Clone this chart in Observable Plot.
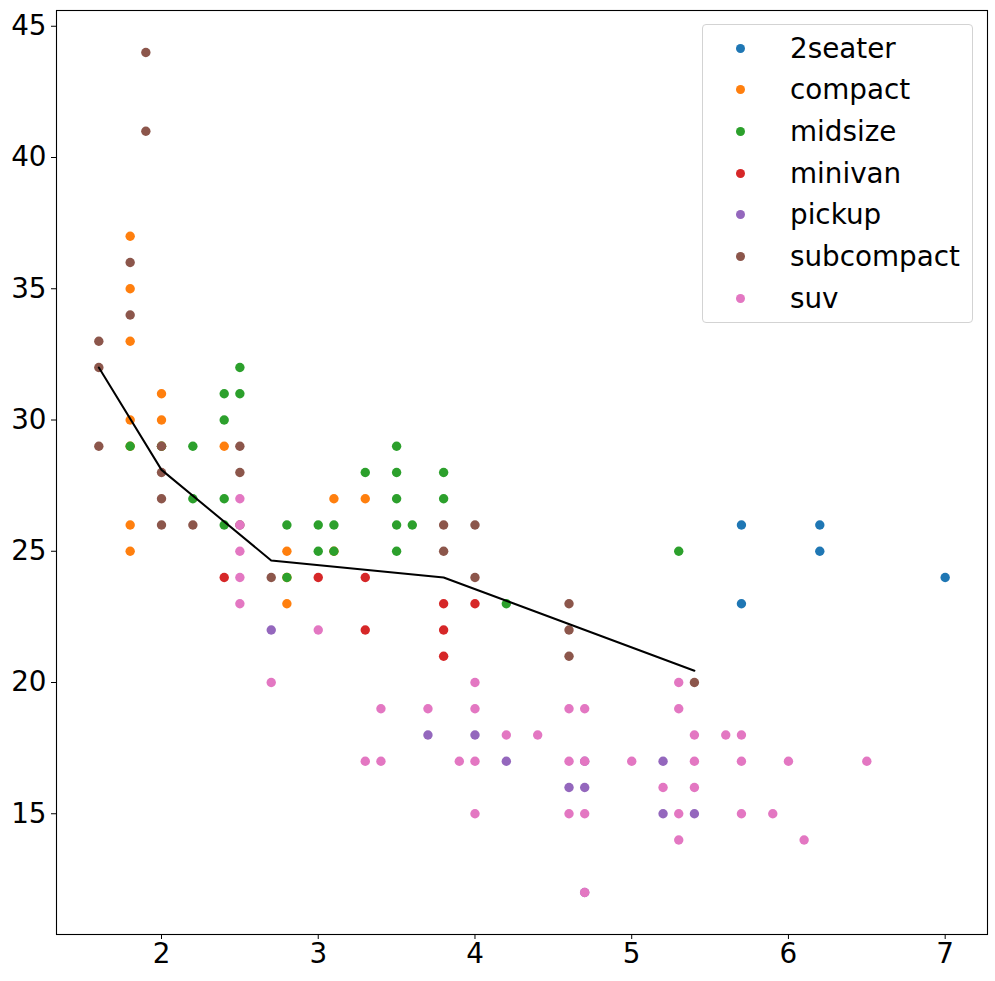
<!DOCTYPE html>
<html>
<head>
<meta charset="utf-8">
<script src="https://cdn.jsdelivr.net/npm/d3@7"></script>
<script src="https://cdn.jsdelivr.net/npm/@observablehq/plot@0.6"></script>
<style>
  body { margin: 0; background: #fff; font-family: "DejaVu Sans", sans-serif; }
  #wrap { position: relative; width: 995px; height: 981px; }
  #legend { position: absolute; left: 702px; top: 24px; width: 271px; height: 299px;
            border: 1px solid #d3d3d3; border-radius: 4px; box-sizing: border-box;
            background: rgba(255,255,255,0.8); }
  .item { position: absolute; left: 0; height: 42px; display: flex; align-items: center;
          font-family: "DejaVu Sans", sans-serif; font-size: 27.8px; color: #000; white-space: nowrap; }
  .mk { position: absolute; width: 9px; height: 9px; border-radius: 50%; left: 33px; top: 16px; }
  .lb { position: absolute; left: 87px; top: 0; height: 42px; line-height: 42px; }
</style>
</head>
<body>
<div id="wrap"><div id="legend"></div></div>
<script>
// categories and colours
const classes = ["2seater", "compact", "midsize", "minivan", "pickup", "subcompact", "suv"];
const colors  = ["#1f77b4", "#ff7f0e", "#2ca02c", "#d62728", "#9467bd", "#8c564b", "#e377c2"];

// [displ, hwy] per class
const twoseater = [[5.7,26],[5.7,23],[6.2,26],[6.2,25],[7.0,24]];
const compact = [[1.8,37],[1.8,35],[1.8,33],[1.8,30],[1.8,29],[1.8,26],[1.8,25],[2.0,31],[2.0,30],[2.0,29],
  [2.4,29],[2.8,25],[2.8,24],[2.8,23],[3.1,27],[3.1,25],[3.3,27]];
const midsize = [[1.8,29],[2.0,29],[2.2,29],[2.2,27],[2.4,31],[2.4,30],[2.4,27],[2.4,26],[2.5,32],[2.5,31],
  [2.8,26],[2.8,24],[3.0,26],[3.0,25],[3.1,26],[3.1,25],[3.3,28],[3.5,29],[3.5,28],[3.5,27],[3.5,26],[3.5,25],
  [3.6,26],[3.8,28],[3.8,27],[4.2,23],[5.3,25]];
const minivan = [[2.4,24],[3.0,24],[3.3,24],[3.3,22],[3.8,23],[3.8,22],[3.8,21],[4.0,23]];
const pickup = [[2.7,22],[3.7,18],[4.0,18],[4.2,17],[4.6,16],[4.7,16],[4.7,17],[4.7,12],[5.2,17],[5.2,15],[5.4,15]];
const subcompact = [[1.6,33],[1.6,32],[1.6,29],[1.8,36],[1.8,34],[1.9,44],[1.9,41],[2.0,29],[2.0,28],[2.0,27],
  [2.0,26],[2.2,26],[2.5,29],[2.5,28],[2.5,26],[2.7,24],[3.8,26],[3.8,25],[4.0,26],[4.0,24],[4.6,23],[4.6,22],
  [4.6,21],[5.4,20]];
const suv = [[2.5,27],[2.5,26],[2.5,25],[2.5,24],[2.5,23],[2.7,20],[3.0,22],[3.3,17],[3.4,19],[3.4,17],[3.7,19],
  [3.9,17],[4.0,20],[4.0,19],[4.0,17],[4.0,15],[4.2,18],[4.4,18],[4.6,19],[4.6,17],[4.6,15],[4.7,19],[4.7,17],
  [4.7,15],[4.7,12],[5.0,17],[5.2,16],[5.3,20],[5.3,19],[5.3,15],[5.3,14],[5.4,18],[5.4,17],[5.4,16],[5.6,18],
  [5.7,18],[5.7,17],[5.7,15],[5.9,15],[6.0,17],[6.1,14],[6.5,17]];

// black trend line
const lineX = [1.6, 2.0, 2.7, 3.8, 5.4];
const lineY = [32.0, 28.1, 24.65, 24.0, 20.45];

// tick labels
const xTicks = [2, 3, 4, 5, 6, 7];
const yTicks = [15, 20, 25, 30, 35, 40, 45];

const series = [twoseater, compact, midsize, minivan, pickup, subcompact, suv];
const table = [];
series.forEach((arr, i) => arr.forEach(([displ, hwy]) => table.push({displ, hwy, cls: classes[i]})));
const lineTable = lineX.map((x, i) => ({x, y: lineY[i]}));

const chart = Plot.plot({
  width: 995, height: 981,
  marginLeft: 56, marginRight: 8, marginTop: 10, marginBottom: 47,
  x: {domain: [1.33, 7.27], label: null},
  y: {domain: [10.4, 45.6], label: null},
  color: {domain: classes, range: colors},
  style: {fontFamily: "DejaVu Sans", fontSize: "27.8px", background: "#fff", color: "#000"},
  marks: [
    Plot.axisX({ticks: xTicks, tickSize: 5, tickPadding: 4, fontSize: 27.8, tickFormat: d => String(d), label: null}),
    Plot.axisY({ticks: yTicks, tickSize: 5, tickPadding: 5, fontSize: 27.8, tickFormat: d => String(d), label: null}),
    Plot.dot(table, {x: "displ", y: "hwy", fill: "cls", r: 4.7}),
    Plot.line(lineTable, {x: "x", y: "y", stroke: "#000", strokeWidth: 2}),
    Plot.frame({stroke: "#000", strokeWidth: 1.1})
  ]
});
const wrap = document.getElementById("wrap");
wrap.insertBefore(chart, wrap.firstChild);

const legend = document.getElementById("legend");
classes.forEach((c, i) => {
  const item = document.createElement("div");
  item.className = "item";
  item.style.top = (2.5 + i * 41.7) + "px";
  item.style.width = "100%";
  const mk = document.createElement("div");
  mk.className = "mk";
  mk.style.background = colors[i];
  const lb = document.createElement("div");
  lb.className = "lb";
  lb.textContent = c;
  item.appendChild(mk); item.appendChild(lb);
  legend.appendChild(item);
});
</script>
</body>
</html>
